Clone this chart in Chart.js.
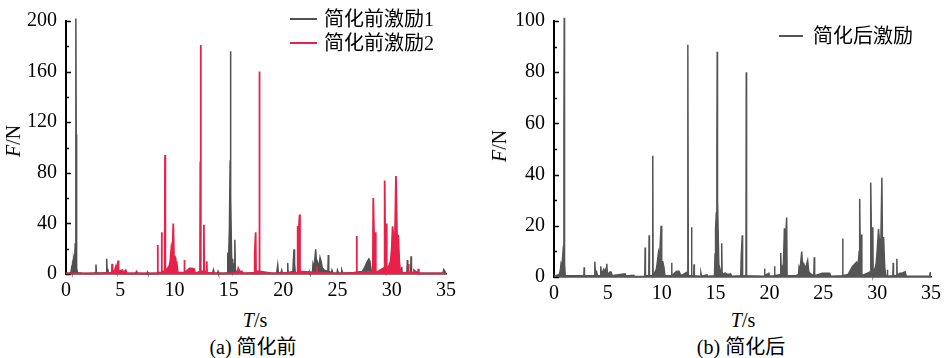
<!DOCTYPE html>
<html><head><meta charset="utf-8">
<script src="https://cdn.jsdelivr.net/npm/chart.js@4.4.0/dist/chart.umd.min.js"></script>
<style>
html,body{margin:0;padding:0;background:#fff;}
#wrap{position:relative;width:946px;height:358px;overflow:hidden;font-family:"Liberation Serif","Noto Sans CJK SC",serif;color:#000;}
canvas{position:absolute;top:0;}
.t{position:absolute;font-size:20px;line-height:20px;white-space:nowrap;transform:translate(-50%,-50%);}
.rot{transform:translate(-50%,-50%) rotate(-90deg);}
.lg{position:absolute;font-size:20px;line-height:20px;white-space:nowrap;}
.lg span{display:inline-block;vertical-align:middle;}
.ln{width:27px;height:2px;margin-right:7px;}
</style></head><body>
<div id="wrap">
<canvas id="c1" width="473" height="300" style="left:0"></canvas>
<canvas id="c2" width="473" height="300" style="left:473px"></canvas>
<div class="t rot" style="left:13px;top:141px"><i>F</i>/N</div>
<div class="t rot" style="left:499px;top:146px"><i>F</i>/N</div>
<div class="t" style="left:255px;top:320px"><i>T</i>/s</div>
<div class="t" style="left:743px;top:320px"><i>T</i>/s</div>
<div class="t" style="left:253px;top:347px">(a) 简化前</div>
<div class="t" style="left:741px;top:347px">(b) 简化后</div>
<div class="lg" style="left:290px;top:7px"><span class="ln" style="background:#505050"></span><span>简化前激励1</span></div>
<div class="lg" style="left:290px;top:31px"><span class="ln" style="background:#e8204a"></span><span>简化前激励2</span></div>
<div class="lg" style="left:779px;top:24px"><span class="ln" style="background:#555555;width:24px;margin-right:10px"></span><span>简化后激励</span></div>
</div>
<script>
// ---------- data ----------
const xTicks = [0, 5, 10, 15, 20, 25, 30, 35];
const yTicksA = [0, 40, 80, 120, 160, 200];
const yTicksB = [0, 20, 40, 60, 80, 100];
const labelA1 = '简化前激励1';
const labelA2 = '简化前激励2';
const labelB = '简化后激励';

// (a) excitation 1 before simplification
const tA1 = [0,0.3,0.45,0.5,0.55,0.6,0.65,0.7,0.75,0.8,0.85,0.9,0.92,0.94,0.98,1.05,1.5,2.0,2.5,2.72,2.76,2.8,3.3,3.71,3.75,3.79,3.85,3.9,4.5,5.5,6.5,7.45,7.5,7.55,8.5,9.5,10.5,11.5,12.5,13.5,13.57,13.62,13.95,14.0,14.05,14.5,14.85,14.9,14.95,15.0,15.05,15.12,15.15,15.18,15.25,15.3,15.35,15.4,15.5,15.55,15.6,15.7,16.5,17.5,18.5,19.4,19.5,19.56,19.8,19.87,19.93,20.38,20.42,20.46,20.9,20.95,21.0,21.05,21.12,21.8,22.35,22.41,22.47,22.7,22.75,22.85,23.0,23.1,23.18,23.3,23.4,23.5,23.6,23.8,24.12,24.16,24.2,24.45,24.5,24.6,24.95,25.0,25.1,25.35,25.4,25.5,26.0,27.3,27.5,27.7,27.9,28.0,28.1,28.6,29.5,30.88,30.92,30.96,31.4,31.44,31.48,31.74,31.78,31.82,32.5,33.5,34.7,34.8,35];
const fA1 = [0.5,0.8,1,4,2,8,6,12,10,13,24,60,202,110,5,1,0.5,0.3,0.5,1,7.5,1,0.5,1,12,2,4,1,0.5,0.4,0.5,0.3,1.5,0.3,0.5,0.5,0.5,0.5,0.5,0.5,3,0.5,0.5,2,0.5,0.5,1,17,10,20,36,90,176,60,15,8,12,3,8,27,4,1,0.5,0.4,0.5,0.5,7,1,1,3,0.5,1,8.6,1,2,12,19.5,8,1,0.5,0.5,2,0.5,1,8,5,19.5,4,9,5,13,10,5,3,2,15,2,1,3,0.5,0.5,3,0.5,0.5,3,0.5,0.5,2,5,9,12,10,3,1,1,1,5.5,1,1,11,1,1,14,1,0.5,0.5,0.5,3.5,0.5];

// (a) excitation 2 before simplification
const tA2 = [0,1.0,2.0,3.0,4.21,4.25,4.29,4.5,4.6,4.7,4.77,4.8,4.84,5.2,5.3,5.5,5.6,6.4,6.5,6.6,8.41,8.44,8.47,8.78,8.81,8.84,9.09,9.12,9.15,9.5,9.6,9.7,9.8,9.88,9.95,10.04,10.1,10.2,10.3,10.87,10.9,10.93,11.2,11.4,11.6,11.8,11.9,12.34,12.37,12.4,12.43,12.67,12.7,12.73,12.93,12.96,12.99,14.0,15.0,15.8,15.87,16.0,16.2,16.3,17.34,17.38,17.47,17.5,17.78,17.81,17.84,19.0,21.3,21.34,21.4,21.52,21.55,23.06,23.1,23.14,25.0,26.74,26.77,26.8,28.26,28.3,28.4,28.5,28.53,29.32,29.35,29.42,29.5,29.54,29.9,30.0,30.08,30.2,30.3,30.39,30.5,30.6,30.7,30.8,31.52,31.55,31.58,32.0,32.05,32.42,32.45,32.5,33.5,35];
const fA2 = [0.5,0.5,0.5,0.5,1,8,2,3,6,2,2,10.6,2,3,1,3,0.5,0.5,2,0.5,0.5,23,1,1,33,2,2,94,2,6,10,20,14,40,12,13,8,9,1,1,11,1,3,4.5,4.5,4,0.5,2,89,181,2,2,39,2,2,10,1,0.5,0.5,1,4.5,2,2,0.5,1,16,33,2,2,160,2,0.5,1,38,30,47,2,1,6,1,0.5,1,30,1,2,60,20,33,1,5,74,10,40,2,10,20,37.6,25,30,77.5,25,31,10,1,1,8,1,1,3,0.5,4,0.5,0.5,0.5];

// (b) excitation after simplification
const tB = [0,0.5,0.6,0.65,0.72,0.8,0.88,0.92,0.95,0.98,1.05,2.77,2.8,2.83,3.75,3.79,3.85,3.95,4.05,4.31,4.34,4.4,4.5,4.62,4.7,4.8,4.87,4.9,4.96,5.2,5.3,5.4,5.8,6.6,6.7,7.4,7.5,8.43,8.46,8.49,8.8,8.83,8.86,9.14,9.17,9.2,9.5,9.6,9.7,9.8,9.94,10.0,10.1,10.2,10.3,10.89,10.92,10.95,11.2,11.4,11.6,11.8,12.38,12.41,12.44,12.47,12.74,12.77,12.8,12.97,13.0,13.03,13.6,13.64,13.7,14.2,14.3,14.9,14.95,15.0,15.07,15.12,15.15,15.18,15.3,15.53,15.57,15.61,15.9,16.1,16.4,16.5,17.34,17.38,17.48,17.51,17.82,17.85,17.88,19.52,19.55,19.58,19.95,20.0,20.43,20.47,20.51,21.01,21.05,21.1,21.3,21.39,21.5,21.6,21.64,22.47,22.7,22.75,22.85,23.0,23.1,23.2,23.35,23.45,23.55,23.65,23.9,24.12,24.16,24.2,24.9,25.2,25.6,25.7,26.77,26.8,26.83,27.3,27.5,27.7,27.9,28.1,28.2,28.33,28.38,28.45,28.55,28.58,29.34,29.39,29.42,29.5,29.6,29.63,29.9,30.0,30.13,30.25,30.35,30.44,30.5,30.6,30.7,30.8,30.92,30.95,30.98,31.46,31.49,31.52,31.8,31.83,31.86,32.1,32.3,32.6,32.7,34.88,34.93,35];
const fB = [0.3,1,3,5,4,7.7,12,55,101.3,5,0.5,0.5,3.8,0.5,0.5,6,1,2,0.5,0.5,4.2,1,2,3,2,3,1,5.2,1,2,2,0.5,0.8,1.2,0.4,0.7,0.2,0.3,11.5,0.5,0.5,16.3,0.5,0.5,47.4,0.5,3,6,9.6,7,20,6,6,4,0.5,0.5,5.6,0.5,1.5,2.2,2.2,0.5,2,45,90.7,0.5,0.5,19.4,0.5,0.5,5,0.5,0.3,1.5,0.3,0.8,0.3,0.5,9,18.6,25,45,88,30,5,1,13.2,1,1.5,1,1.2,0.3,0.5,8,16.3,0.5,0.5,80,0.5,0.3,3.3,0.5,1.5,0.3,0.5,4.2,0.5,1,9.4,3,5,19,15,23.2,0.5,0.5,1,4,3,9.9,3,5,3,5,6.5,2,1,0.5,7.7,0.5,1.5,1.5,1.5,0.3,0.5,15,0.5,1,2.5,4,5,5.8,2,10,30.5,3,16.6,0.5,2,5,36.9,5,19.4,0.5,5,10,18.7,12,15,38.8,10,15.6,4,0.5,0.5,2.8,0.3,0.5,5.6,0.5,0.5,7.1,0.5,1.5,1.5,2,0.3,0.3,1.7,1.7];

// ---------- drawing ----------
const GRAY = '#505050', RED = '#e8204a', GRAYB = '#555555';
const toPts = (t, f) => t.map((x, i) => ({x, y: f[i]}));

const innerTicks = {
  id: 'innerTicks',
  beforeDatasetsDraw(chart, args, opts) {
    const y = chart.scales.y, ctx = chart.ctx, left = chart.chartArea.left;
    const major = opts.values;
    ctx.save();
    ctx.strokeStyle = '#000'; ctx.lineWidth = 1.5;
    for (let i = 0; i < major.length; i++) {
      const vals = [major[i]];
      if (i < major.length - 1) vals.push((major[i] + major[i + 1]) / 2);
      vals.forEach((v, k) => {
        const py = Math.round(y.getPixelForValue(v)) + 0.5;
        const len = k === 0 ? 5 : 3;
        ctx.beginPath(); ctx.moveTo(left, py); ctx.lineTo(left + len, py); ctx.stroke();
      });
    }
    ctx.restore();
  }
};

function makeChart(id, datasets, yTicks, yMax, area) {
  const font = {family: '"Liberation Serif", serif', size: 20};
  return new Chart(document.getElementById(id), {
    type: 'line',
    data: {datasets},
    options: {
      responsive: false, animation: false, devicePixelRatio: 1,
      layout: {autoPadding: false, padding: {left: 0, top: area.top, right: area.right, bottom: 0}},
      plugins: {legend: {display: false}, tooltip: {enabled: false}, innerTicks: {values: yTicks}},
      elements: {point: {radius: 0}, line: {tension: 0, borderJoinStyle: 'miter'}},
      scales: {
        x: {
          type: 'linear', min: 0, max: 35,
          afterBuildTicks: s => { s.ticks = xTicks.map(v => ({value: v})); },
          afterFit: s => { s.height = area.xh; },
          ticks: {font, color: '#000', padding: 5, maxRotation: 0, autoSkip: false},
          grid: {display: false, drawTicks: false},
          border: {display: true, color: '#000', width: 1.5}
        },
        y: {
          min: 0, max: yMax,
          afterBuildTicks: s => { s.ticks = yTicks.map(v => ({value: v})); },
          afterFit: s => { s.width = area.left; },
          ticks: {font, color: '#000', padding: 9, autoSkip: false},
          grid: {display: false, drawTicks: false},
          border: {display: true, color: '#000', width: 2}
        }
      }
    },
    plugins: [innerTicks]
  });
}

makeChart('c1', [
  {label: labelA1, data: toPts(tA1, fA1), borderColor: GRAY, backgroundColor: GRAY, borderWidth: 1.5, fill: 'origin', clip: false, order: 2},
  {label: labelA2, data: toPts(tA2, fA2), borderColor: RED, backgroundColor: RED, borderWidth: 1.8, fill: 'origin', clip: false, order: 1}
], yTicksA, 200, {left: 66, top: 10, right: 27, xh: 26});

makeChart('c2', [
  {label: labelB, data: toPts(tB, fB), borderColor: GRAYB, backgroundColor: GRAYB, borderWidth: 1.5, fill: 'origin', clip: false}
], yTicksB, 100, {left: 81, top: 14, right: 13, xh: 23});
</script>
</body></html>
